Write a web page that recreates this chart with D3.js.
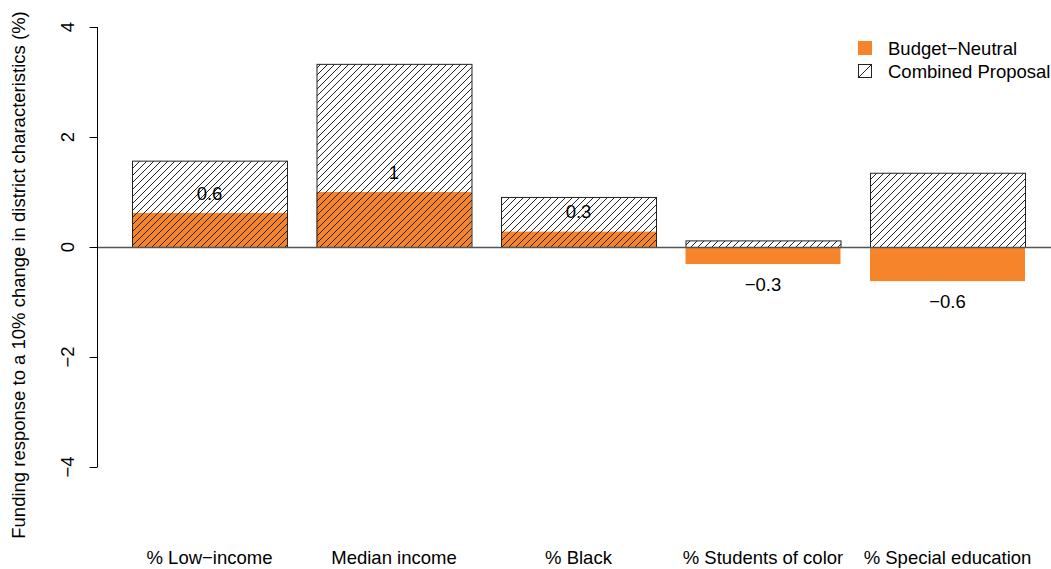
<!DOCTYPE html>
<html><head><meta charset="utf-8">
<script src="https://cdn.jsdelivr.net/npm/d3@7"></script>
<style>body{margin:0;background:#fff}svg{display:block}text{font-family:"Liberation Sans",Arial,Helvetica,sans-serif;fill:#000}</style>
</head><body>
<script>
const categories = ["% Low\u2212income","Median income","% Black","% Students of color","% Special education"];
const budgetNeutral = [0.62, 1.0, 0.28, -0.31, -0.62];
const combined = [1.57, 3.33, 0.91, 0.12, 1.35];
const valueLabels = ["0.6","1","0.3","\u22120.3","\u22120.6"];
const yTicks = [-4,-2,0,2,4];
const seriesNames = ["Budget\u2212Neutral","Combined Proposal"];

const W=1051,H=569, FS="18.5px";
const svg=d3.select("body").append("svg").attr("width",W).attr("height",H);
const x=d3.scaleBand().domain(categories).range([132,1025]).paddingInner(0.16).paddingOuter(0);
const y=d3.scaleLinear().domain([-4,4]).range([467,27]);
const orange="#F5842B";

const defs=svg.append("defs");
const pat=defs.append("pattern").attr("id","hatch").attr("patternUnits","userSpaceOnUse")
  .attr("width",7).attr("height",7);
pat.append("path").attr("d","M-1,8 L8,-1 M-4,4 L4,-4 M3,11 L11,3").attr("stroke","#222").attr("stroke-width",1);

svg.append("g").selectAll("rect").data(budgetNeutral).join("rect")
  .attr("x",(d,i)=>x(categories[i])).attr("width",x.bandwidth())
  .attr("y",d=>y(Math.max(0,d))).attr("height",d=>Math.abs(y(d)-y(0)))
  .attr("fill",orange);
svg.append("g").selectAll("rect").data(combined).join("rect")
  .attr("x",(d,i)=>x(categories[i])+0.5).attr("width",x.bandwidth())
  .attr("y",d=>y(Math.max(0,d))+0.5).attr("height",d=>Math.abs(y(d)-y(0)))
  .attr("fill","url(#hatch)").attr("stroke","#222").attr("stroke-width",1);

svg.append("line").attr("x1",97).attr("x2",W).attr("y1",y(0)+0.5).attr("y2",y(0)+0.5)
  .attr("stroke","#555").attr("stroke-width",1.3);

svg.append("g").selectAll("text").data(budgetNeutral).join("text")
  .attr("x",(d,i)=>x(categories[i])+x.bandwidth()/2)
  .attr("y",d=>d>=0?y(d)-20:y(d)+20).attr("dy","0.36em")
  .attr("text-anchor","middle").style("font-size",FS)
  .text((d,i)=>valueLabels[i]);

const ya=svg.append("g").attr("transform","translate(97.5,0)");
ya.append("line").attr("x1",0).attr("x2",0).attr("y1",y(4)).attr("y2",y(-4)).attr("stroke","#000");
ya.selectAll("line.t").data(yTicks).join("line").attr("class","t")
  .attr("x1",-8).attr("x2",0).attr("y1",d=>y(d)+0.5).attr("y2",d=>y(d)+0.5).attr("stroke","#000");
ya.selectAll("text").data(yTicks).join("text")
  .attr("transform",d=>`translate(-23.5,${y(d)}) rotate(-90)`)
  .attr("text-anchor","middle").style("font-size",FS)
  .text(d=>d<0?"\u2212"+Math.abs(d):String(d));

svg.append("text").attr("transform",`translate(25,275) rotate(-90)`)
  .attr("text-anchor","middle").style("font-size",FS)
  .text("Funding response to a 10% change in district characteristics (%)");

svg.append("g").selectAll("text").data(categories).join("text")
  .attr("x",d=>x(d)+x.bandwidth()/2).attr("y",564)
  .attr("text-anchor","middle").style("font-size",FS).text(d=>d);

const lg=svg.append("g");
lg.append("rect").attr("x",858).attr("y",41).attr("width",14).attr("height",14).attr("fill",orange);
lg.append("rect").attr("x",858.5).attr("y",64.5).attr("width",13).attr("height",13).attr("fill","#fff").attr("stroke","#222");
lg.append("line").attr("x1",859).attr("y1",77).attr("x2",871).attr("y2",65).attr("stroke","#222");
lg.selectAll("text").data(seriesNames).join("text")
  .attr("x",888).attr("y",(d,i)=>48+i*23).attr("dy","0.36em").style("font-size",FS).text(d=>d);
</script>
</body></html>
